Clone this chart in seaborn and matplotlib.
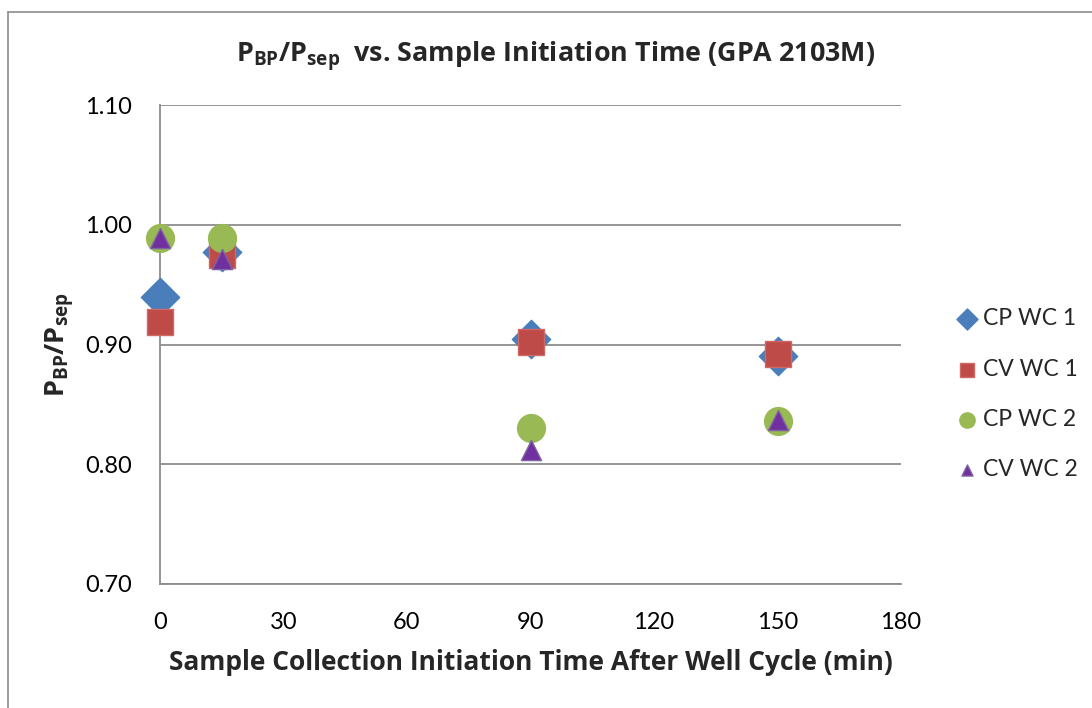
import matplotlib
matplotlib.use("Agg")
import matplotlib.pyplot as plt
import seaborn as sns
import pandas as pd
from matplotlib.lines import Line2D

# Sample collection start times (min) and pressure ratios per series
times = [0, 15, 90, 150]
cp_wc1 = [0.940, 0.977, 0.905, 0.890]
cv_wc1 = [0.919, 0.975, 0.902, 0.892]
cp_wc2 = [0.989, 0.989, 0.830, 0.836]
cv_wc2 = [0.989, 0.971, 0.812, 0.837]

series_names = ["CP WC 1", "CV WC 1", "CP WC 2", "CV WC 2"]
series_values = [cp_wc1, cv_wc1, cp_wc2, cv_wc2]

x_ticks = [0, 30, 60, 90, 120, 150, 180]
y_ticks = [0.70, 0.80, 0.90, 1.00, 1.10]

sns.set_theme(style="white")
plt.rcParams["font.family"] = ["Lato", "DejaVu Sans"]
plt.rcParams["mathtext.fontset"] = "custom"
plt.rcParams["mathtext.rm"] = "Open Sans:bold"
plt.rcParams["mathtext.bf"] = "Open Sans:bold"
plt.rcParams["mathtext.it"] = "Open Sans:bold"

BOLD = dict(family=["Open Sans", "DejaVu Sans"], weight="bold")

fig = plt.figure(figsize=(10.92, 7.08), dpi=100)
W, H = 1092, 708
ax = fig.add_axes([160 / W, (H - 584) / H, (901 - 160) / W, (584 - 105) / H])

styles = {
    "CP WC 1": dict(marker="D", s=19.5 ** 2, color="#4A7EBB", edgecolor="#4A7EBB"),
    "CV WC 1": dict(marker="s", s=18.7 ** 2, color="#BE4B48", edgecolor="#D06866"),
    "CP WC 2": dict(marker="o", s=20.0 ** 2, color="#98B954", edgecolor="#98B954"),
    "CV WC 2": dict(marker="^", s=14.5 ** 2, color="#7030A0", edgecolor="#8064A2"),
}

frames = []
for name, vals in zip(series_names, series_values):
    frames.append(pd.DataFrame({"time": times, "ratio": vals, "series": name}))
df = pd.concat(frames, ignore_index=True)

for name in series_names:
    st = styles[name]
    sns.scatterplot(data=df[df["series"] == name], x="time", y="ratio", ax=ax,
                    marker=st["marker"], s=st["s"], color=st["color"],
                    edgecolor=st["edgecolor"], linewidth=1.0, label=name,
                    zorder=3, clip_on=False)

ax.set_xlim(0, 180)
ax.set_ylim(0.70, 1.10)
ax.set_xticks(x_ticks)
ax.set_xticklabels([str(t) for t in x_ticks])
ax.set_yticks(y_ticks)
ax.set_yticklabels([f"{v:.2f}" for v in y_ticks])

ax.yaxis.grid(True, color="#8C8C8C", linewidth=1.3)
ax.xaxis.grid(False)
ax.set_axisbelow(True)
for side in ["top", "right"]:
    ax.spines[side].set_visible(False)
for side in ["left", "bottom"]:
    ax.spines[side].set_color("#8C8C8C")
    ax.spines[side].set_linewidth(1.3)

ax.tick_params(axis="x", direction="in", length=9, width=1.3, color="#8C8C8C",
               labelsize=17, pad=20, labelcolor="black")
ax.tick_params(axis="y", length=0, labelsize=17, pad=20, labelcolor="black")

ax.set_xlabel("Sample Collection Initiation Time After Well Cycle (min)",
              fontsize=19, labelpad=12, **BOLD)
ax.set_ylabel(r"$\mathbf{P_{BP}/P_{sep}}$", fontsize=19.5, labelpad=6)
fig.text(556 / W, (H - 57) / H,
         r"$\mathbf{P_{BP}/P_{sep}}$  vs. Sample Initiation Time (GPA 2103M)",
         fontsize=19.4, ha="center", va="center", **BOLD)

handles, labels = ax.get_legend_handles_labels()
leg = ax.legend(handles, labels, loc="center left", bbox_to_anchor=(1.055, 0.396),
                frameon=False, fontsize=16.5, handletextpad=0.1, labelspacing=1.28,
                markerscale=0.55, borderpad=0, handlelength=1.2)

# outer chart border
fig.add_artist(Line2D([8 / W, 8 / W], [0, (H - 12) / H], color="#8C8C8C",
                      linewidth=1.2, transform=fig.transFigure))
fig.add_artist(Line2D([8 / W, 1], [(H - 12) / H, (H - 12) / H], color="#8C8C8C",
                      linewidth=1.2, transform=fig.transFigure))

fig.savefig("out.png", dpi=100)
